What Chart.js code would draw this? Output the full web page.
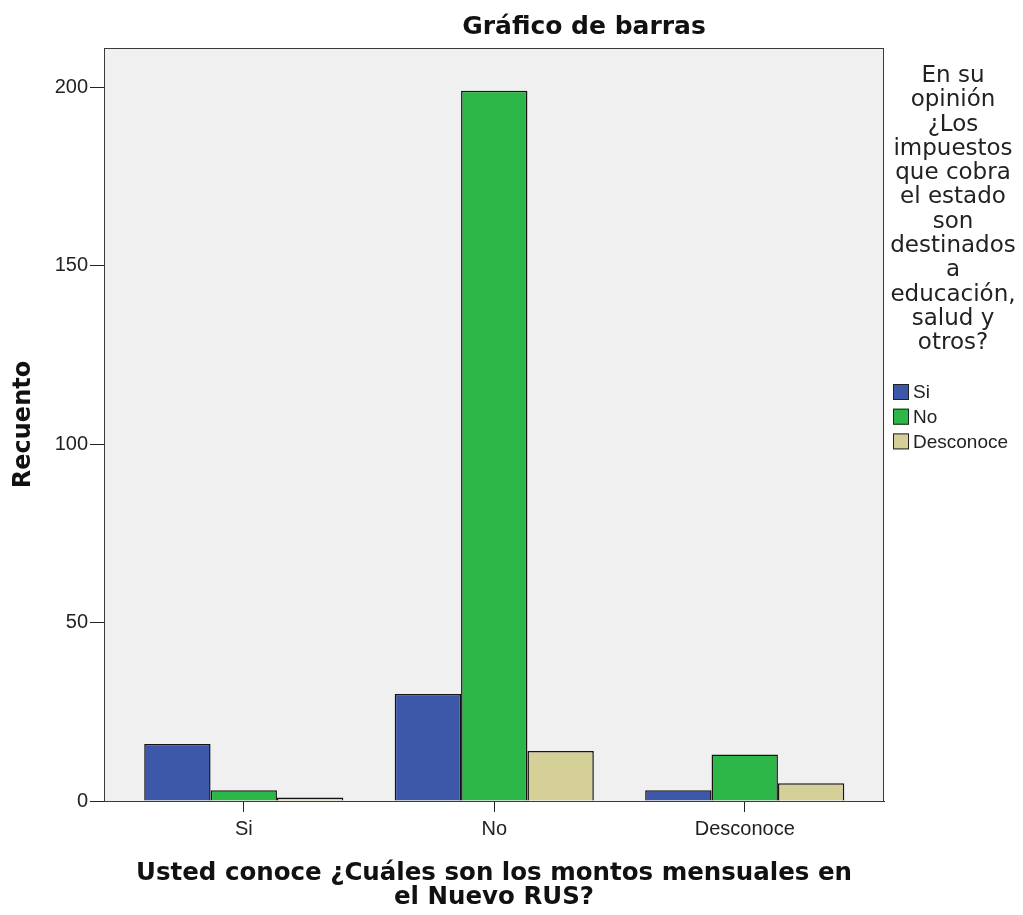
<!DOCTYPE html>
<html>
<head>
<meta charset="utf-8">
<title>Gráfico de barras</title>
<script src="https://cdn.jsdelivr.net/npm/chart.js"></script>
<style>
    body { margin: 0; background: #ffffff; }
    canvas { display: block; }
</style>
</head>
<body>
<canvas id="barras" width="1023" height="915"></canvas>
<script>
// --- DATOS ---
const categorias = ['Si', 'No', 'Desconoce'];
const serieNombres = ['Si', 'No', 'Desconoce'];
const recuentoSi = [16, 30, 3];
const recuentoNo = [3, 199, 13];
const recuentoDesconoce = [1, 14, 5];
const ticksY = [0, 50, 100, 150, 200];
const tituloLeyenda = ['En su', 'opinión', '¿Los', 'impuestos', 'que cobra', 'el estado',
    'son', 'destinados', 'a', 'educación,', 'salud y', 'otros?'];
const tituloX = ['Usted conoce ¿Cuáles son los montos mensuales en', 'el Nuevo RUS?'];

const colores = ['#3d57a9', '#2eb749', '#d5cf98'];
const series = [recuentoSi, recuentoNo, recuentoDesconoce];

const datasets = series.map((valores, s) => ({
    label: serieNombres[s],
    data: valores.map((v, i) => ({ x: i, y: v })),
    backgroundColor: colores[s],
    borderColor: '#141414',
    borderWidth: 1.5,
    categoryPercentage: 0.795,
    barPercentage: 1
}));

// fondo gris del área de trazado, marco, título y leyenda
const marco = {
    id: 'marco',
    beforeDatasetsDraw(chart) {
        const { ctx, chartArea: a } = chart;
        ctx.save();
        ctx.fillStyle = '#f0f0f0';
        ctx.fillRect(a.left, a.top, a.right - a.left, a.bottom - a.top);
        ctx.restore();
    },
    afterDraw(chart) {
        const { ctx, chartArea: a } = chart;
        ctx.save();
        ctx.strokeStyle = '#3a3a3a';
        ctx.lineWidth = 1;
        ctx.strokeRect(a.left + 0.5, a.top + 0.5, a.right - a.left - 1, a.bottom - a.top);
        // título principal
        ctx.fillStyle = '#111';
        ctx.font = 'bold 25px "DejaVu Sans"';
        ctx.textAlign = 'center';
        ctx.textBaseline = 'middle';
        ctx.fillText('Gráfico de barras', 584, 27);
        // leyenda
        ctx.font = '23px "DejaVu Sans"';
        ctx.fillStyle = '#222';
        tituloLeyenda.forEach((t, i) => ctx.fillText(t, 953, 76 + i * 24.3));
        ctx.textAlign = 'left';
        ctx.font = '19px "Liberation Sans"';
        chart.data.datasets.forEach((ds, i) => {
            const y = 392 + i * 24.7;
            ctx.fillStyle = ds.backgroundColor;
            ctx.fillRect(893, y - 8, 16, 16);
            ctx.strokeStyle = '#222';
            ctx.strokeRect(893.5, y - 7.5, 15, 15);
            ctx.fillStyle = '#222';
            ctx.fillText(ds.label, 913, y + 1);
        });
        ctx.restore();
    }
};

new Chart(document.getElementById('barras'), {
    type: 'bar',
    data: { datasets },
    options: {
        responsive: false,
        animation: false,
        layout: { padding: { top: 48, right: 139, left: 0, bottom: 0 } },
        plugins: {
            legend: { display: false },
            title: { display: false },
            tooltip: { enabled: false }
        },
        scales: {
            x: {
                type: 'linear',
                offset: false,
                min: -0.558,
                max: 2.556,
                afterFit: (scale) => { scale.height = 114; },
                afterBuildTicks: (scale) => { scale.ticks = categorias.map((c, i) => ({ value: i })); },
                ticks: {
                    callback: (v) => categorias[v],
                    font: { family: 'Liberation Sans', size: 20 },
                    color: '#222',
                    padding: 5,
                    maxRotation: 0
                },
                grid: { offset: false, drawOnChartArea: false, tickLength: 11, color: '#222' },
                border: { color: '#222' },
                title: {
                    display: true,
                    text: tituloX,
                    font: { family: 'DejaVu Sans', size: 24.5, weight: 'bold', lineHeight: 0.98 },
                    color: '#111',
                    padding: { bottom: 5 }
                }
            },
            y: {
                min: 0,
                max: 211,
                afterFit: (scale) => { scale.width = 104; },
                afterBuildTicks: (scale) => { scale.ticks = ticksY.map(v => ({ value: v })); },
                ticks: {
                    font: { family: 'Liberation Sans', size: 20 },
                    color: '#222',
                    padding: 2
                },
                grid: { drawOnChartArea: false, tickLength: 14, color: '#222' },
                border: { color: '#222' },
                title: {
                    display: true,
                    text: 'Recuento',
                    font: { family: 'DejaVu Sans', size: 24, weight: 'bold', lineHeight: 1 },
                    color: '#111',
                    padding: { top: 12 }
                }
            }
        }
    },
    plugins: [marco]
});
</script>
</body>
</html>
